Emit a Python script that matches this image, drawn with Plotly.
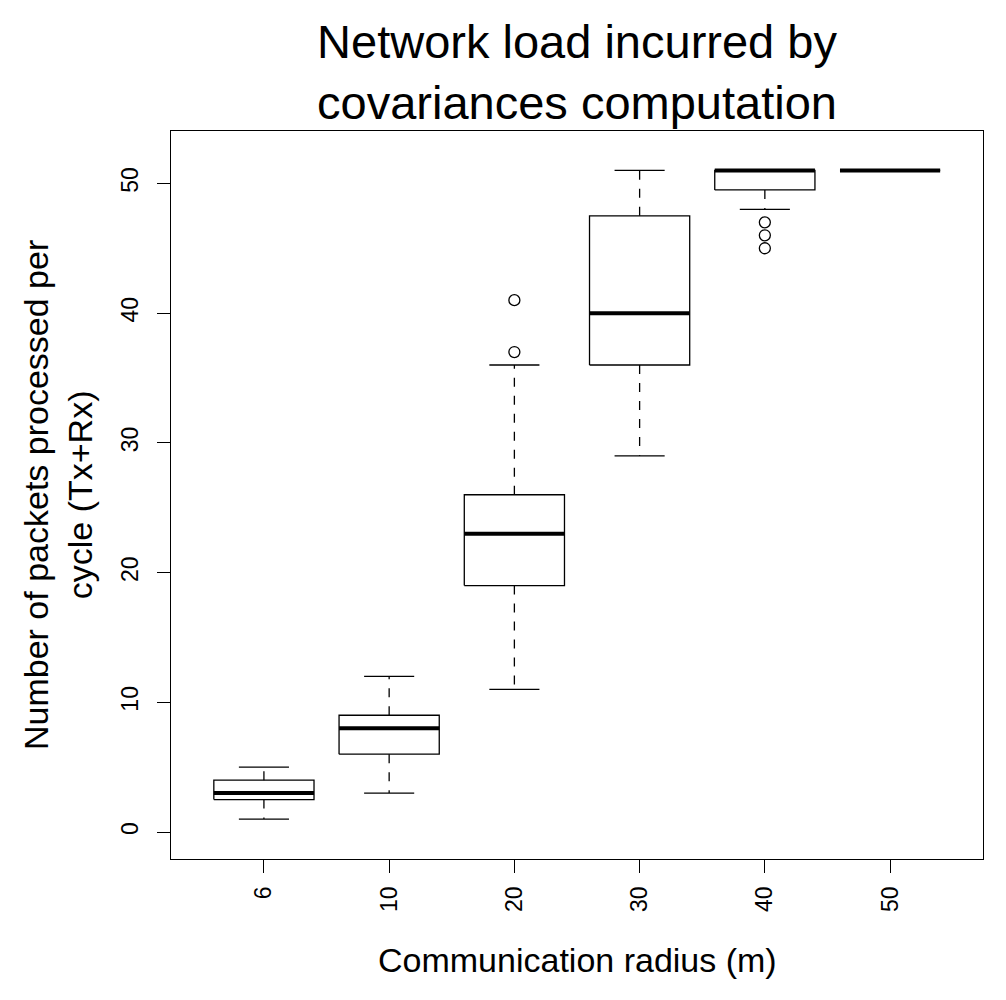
import plotly.graph_objects as go

# summary statistics (packets per cycle)
radius = ["6", "10", "20", "30", "40", "50"]
lower_whisker = [1, 3, 11, 29, 48, 51]
q1 = [2.5, 6, 19, 36, 49.5, 51]
median = [3, 8, 23, 40, 51, 51]
q3 = [4, 9, 26, 47.5, 51, 51]
upper_whisker = [5, 12, 36, 51, 51, 51]
outliers = {"20": [37, 41], "40": [47, 46, 45]}

FONT = "Liberation Sans, Arial, Helvetica, sans-serif"
pos = list(range(1, len(radius) + 1))
hw = 0.4      # half box width
cap = 0.2     # half staple width

bx, by, mx, my, wx, wy, cx, cy, ox, oy = [], [], [], [], [], [], [], [], [], []
for p, lo, a, m, b, hi, lab in zip(pos, lower_whisker, q1, median, q3, upper_whisker, radius):
    bx += [p - hw, p + hw, p + hw, p - hw, p - hw, None]
    by += [a, a, b, b, a, None]
    mx += [p - hw, p + hw, None]
    my += [m, m, None]
    wx += [p, p, None, p, p, None]
    wy += [b, hi, None, a, lo, None]
    cx += [p - cap, p + cap, None, p - cap, p + cap, None]
    cy += [hi, hi, None, lo, lo, None]
    for v in outliers.get(lab, []):
        ox.append(p)
        oy.append(v)

fig = go.Figure()
fig.add_trace(go.Scatter(x=wx, y=wy, mode="lines",
                         line=dict(color="black", width=1.3, dash="9px,9px")))
fig.add_trace(go.Scatter(x=cx, y=cy, mode="lines", line=dict(color="black", width=1.3)))
fig.add_trace(go.Scatter(x=bx, y=by, mode="lines", line=dict(color="black", width=1.3)))
fig.add_trace(go.Scatter(x=mx, y=my, mode="lines", line=dict(color="black", width=4)))
fig.add_trace(go.Scatter(x=ox, y=oy, mode="markers",
                         marker=dict(symbol="circle-open", size=11, color="black",
                                     line=dict(width=1.3, color="black"))))

axis_common = dict(showline=True, linecolor="black", linewidth=1.3, mirror=True,
                   showgrid=False, zeroline=False, ticks="outside", ticklen=13,
                   tickwidth=1.3, tickcolor="black", tickangle=-90,
                   tickfont=dict(family=FONT, size=23, color="black"))

fig.update_layout(
    width=1006, height=1000,
    margin=dict(l=163, r=31, t=123, b=149),
    plot_bgcolor="white", paper_bgcolor="white",
    showlegend=False,
    font=dict(family=FONT, color="black"),
    title=dict(text="Network load incurred by<br>covariances computation",
               x=0.5, xref="paper", xanchor="center",
               y=0.95, yref="container", yanchor="middle",
               font=dict(family=FONT, size=47, color="black")),
    xaxis=dict(range=[0.258, 6.742], tickmode="array", tickvals=pos, ticktext=radius,
               ticklabelstandoff=4, **axis_common),
    yaxis=dict(range=[-2.08, 54.04], tickmode="array", tickvals=[0, 10, 20, 30, 40, 50],
               ticklabelstandoff=10, **axis_common),
    annotations=[
        dict(text="Communication radius (m)", xref="paper", yref="paper",
             x=0.5, y=0, xanchor="center", yanchor="middle", yshift=-101,
             showarrow=False, font=dict(family=FONT, size=34, color="black")),
        dict(text="Number of packets processed per<br>cycle (Tx+Rx)", xref="paper", yref="paper",
             x=0, y=0.5, xanchor="center", yanchor="middle", xshift=-113,
             textangle=-90, showarrow=False,
             font=dict(family=FONT, size=34, color="black")),
    ],
)

fig.write_html("out.html")
